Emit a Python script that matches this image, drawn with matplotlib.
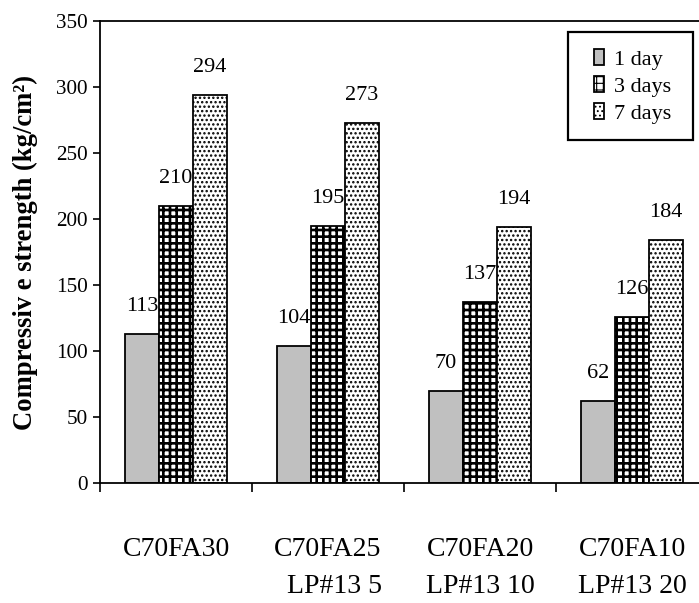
import matplotlib
matplotlib.use("Agg")
import matplotlib.pyplot as plt
from matplotlib.patches import Rectangle
import numpy as np

# Compressive strength of mixes at different curing ages
categories = ["C70FA30", "C70FA25\nLP#13 5", "C70FA20\nLP#13 10", "C70FA10\nLP#13 20"]
series_names = ["1 day", "3 days", "7 days"]
day1 = [113, 104, 70, 62]
day3 = [210, 195, 137, 126]
day7 = [294, 273, 194, 184]
y_ticks = [0, 50, 100, 150, 200, 250, 300, 350]

plt.rcParams["font.family"] = ["Liberation Serif", "DejaVu Serif"]
plt.rcParams["hatch.color"] = "black"

DPI = 80
fig = plt.figure(figsize=(699 / DPI, 603 / DPI), dpi=DPI)
ax = fig.add_axes([100 / 699, 120 / 603, 599 / 699, 462 / 603])

x = np.arange(len(categories))
w = 0.224
styles = [
    dict(facecolor="#c0c0c0", hatch=None, hlw=1.0),
    dict(facecolor="white", hatch="++", hlw=2.4),
    dict(facecolor="white", hatch="...", hlw=1.4),
]
for i, (vals, name, st) in enumerate(zip([day1, day3, day7], series_names, styles)):
    with plt.rc_context({"hatch.linewidth": st["hlw"]}):
        bars = ax.bar(x + (i - 1) * w, vals, width=w, facecolor=st["facecolor"],
                      hatch=st["hatch"], edgecolor="black", linewidth=1.6,
                      label=name, zorder=2)
    for b in bars:
        if hasattr(b, "set_hatch_linewidth"):
            b.set_hatch_linewidth(st["hlw"])
    for xi, v in zip(x + (i - 1) * w, vals):
        ax.annotate(str(v), (xi, v), xytext=(0, 16), textcoords="offset points",
                    ha="center", va="bottom", fontsize=20, zorder=1)

ax.set_ylim(0, 350)
ax.set_xlim(-0.5, -0.5 + 599 / 152)
ax.set_yticks(y_ticks)
ax.tick_params(axis="y", direction="out", length=6, width=1.5, labelsize=19, pad=5)

ax.set_xticks(x)
ax.set_xticklabels(categories, fontsize=25, linespacing=1.6, multialignment="right")
ax.tick_params(axis="x", which="major", length=0, pad=49)
ax.set_xticks(list(x[:-1] + 0.5) + [-0.5], minor=True)
ax.tick_params(axis="x", which="minor", direction="out", length=8, width=1.5)

for s in ax.spines.values():
    s.set_linewidth(1.6)
ax.spines["right"].set_visible(False)

ax.set_ylabel("Compressiv e strength (kg/cm²)", fontsize=24, fontweight="bold")
ax.yaxis.set_label_coords(-0.104, 0.5)

# Legend: entries without frame, boxed by a separate rectangle
leg = ax.legend(loc="center", bbox_to_anchor=(0.890, 0.858), borderaxespad=0,
                fontsize=20, handlelength=0.45, handleheight=0.68, handletextpad=0.45,
                labelspacing=0.3, frameon=False, borderpad=0)
leg.set_zorder(6)
box = Rectangle((0.781, 0.742), 0.209, 0.234, transform=ax.transAxes,
                facecolor="white", edgecolor="black", linewidth=2,
                clip_on=False, zorder=5)
ax.add_patch(box)

fig.savefig("out.png", dpi=DPI)
